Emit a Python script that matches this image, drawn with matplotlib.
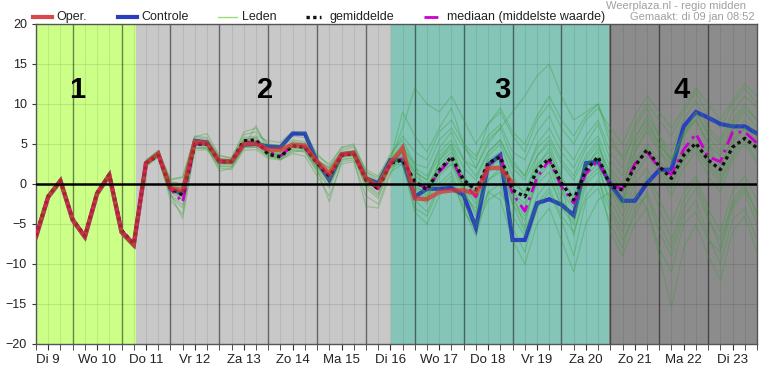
import numpy as np
import matplotlib
matplotlib.use('Agg')
import matplotlib.pyplot as plt
from matplotlib.lines import Line2D

plt.rcParams['font.family'] = ['Liberation Sans', 'DejaVu Sans']

# 6-hourly steps, starting Di 9 06:00 (x in days of January)
START_DAY = 9.25
STEP = 0.25

oper = [-6.6, -1.6, 0.4, -4.5, -6.6, -1.2, 1.1, -6.0, -7.6,
        2.6, 3.8, -0.5, -0.8, 5.3, 5.1, 2.9, 2.8, 5.0, 5.0,
        4.3, 4.3, 4.9, 4.8, 2.8, 1.3, 3.7, 3.9, 0.7, -0.3,
        2.6, 4.5, -1.8, -1.9, -1.0, -0.8, -0.8, -1.2, 2.0, 2.0, 0.1]

controle = [-6.6, -1.6, 0.4, -4.5, -6.6, -1.2, 1.1, -6.0, -7.6,
            2.6, 3.8, -0.6, -1.2, 5.4, 5.2, 2.8, 2.8, 4.9, 5.0,
            4.7, 4.6, 6.3, 6.3, 2.8, 0.5, 3.7, 3.9, 0.7, 0.1,
            3.0, 3.0, -1.6, -0.6, -0.6, -0.5, -1.4, -5.5, 2.4, 3.6,
            -7.0, -7.0, -2.4, -1.9, -2.6, -3.9, 2.6, 2.8,
            0.0, -2.1, -2.1, 0.1, 1.75, 1.8, 7.2, 9.0, 8.3, 7.5, 7.2, 7.2, 6.3]

gemiddelde = [-6.5, -1.5, 0.4, -4.4, -6.5, -1.1, 1.2, -5.8, -7.5,
              2.6, 3.6, -0.5, -1.4, 5.0, 5.0, 2.8, 2.8, 5.4, 5.5,
              3.7, 3.4, 4.8, 4.6, 2.6, 1.0, 3.6, 3.8, 0.5, -0.6,
              2.6, 3.0, 0.3, -0.7, 1.75, 3.4, 0.5, -0.75, 2.6, 3.4,
              -0.75, -1.6, 1.75, 3.2, 0.1, -2.0, 1.75, 3.4,
              -0.3, -0.75, 2.2, 4.3, 2.2, 0.7, 3.6, 5.1, 3.0, 1.8, 4.6, 5.7, 4.5]

mediaan = [-6.5, -1.5, 0.4, -4.4, -6.5, -1.1, 1.2, -5.8, -7.5,
           2.6, 3.6, -0.6, -2.3, 5.0, 5.0, 2.8, 2.8, 5.2, 5.3,
           4.0, 3.5, 4.8, 4.6, 2.6, 1.0, 3.6, 3.8, 0.5, -0.6,
           2.6, 3.2, 0.2, -0.6, 1.5, 3.2, 0.1, -1.6, 2.3, 3.4,
           -1.2, -3.4, 0.8, 3.0, -0.3, -2.4, 1.3, 2.9,
           -0.2, -0.6, 2.5, 4.0, 2.0, 1.2, 4.3, 6.3, 3.4, 2.8, 6.5, 6.5, 5.1]

# ensemble members (estimated from the spaghetti)
leden = [
    [-6.3, -1.3, 0.7, -4.2, -6.3, -0.8, 1.5, -5.6, -7.2,
     3.0, 4.2, 0.5, 0.8, 6.0, 5.8, 3.5, 3.3, 6.2, 6.5, 5.0, 4.8, 6.0, 5.8, 3.5, 2.5, 4.5, 4.8, 1.8, 1.0,
     3.5, 6.0, 4.0, 3.0, 6.5, 8.0, 5.0, 3.5, 6.0, 7.5, 4.0, 3.0, 6.5, 8.5, 5.0, 3.0, 6.0, 8.0,
     4.0, 2.0, 7.0, 9.5, 6.0, 4.0, 8.0, 10.5, 7.0, 5.5, 9.0, 11.0, 9.5],
    [-7.0, -2.0, 0.0, -4.8, -7.0, -1.6, 0.7, -6.4, -8.0,
     2.2, 3.3, -2.0, -3.8, 4.2, 4.3, 2.0, 1.8, 4.2, 4.3, 3.2, 3.0, 3.8, 3.5, 1.0, -1.5, 2.5, 2.8, -1.5, -2.5,
     1.5, 2.5, -3.5, -5.0, -1.5, 0.5, -3.0, -6.5, -1.0, 0.0, -5.5, -8.5, -3.0, -1.0, -4.5, -9.0, -2.0, -0.5,
     -5.0, -8.0, -3.0, -1.5, -6.0, -9.0, -4.0, -2.0, -6.5, -10.0, -4.5, -3.0, -7.0],
    [-6.5, -1.5, 0.5, -4.4, -6.5, -1.0, 1.2, -5.8, -7.4,
     2.7, 3.9, 0.0, -0.5, 5.5, 5.3, 3.0, 3.0, 5.5, 5.8, 4.5, 4.2, 5.2, 5.0, 3.0, 1.8, 4.0, 4.2, 1.0, 0.0,
     3.0, 7.0, 12.0, 10.0, 9.0, 11.0, 8.0, 5.0, 7.5, 9.0, 6.0, 4.0, 8.0, 10.0, 7.0, 5.0, 8.0, 9.5,
     7.0, 5.0, 8.5, 11.0, 9.0, 7.0, 9.5, 12.0, 10.0, 8.0, 10.5, 12.5, 11.0],
    [-6.6, -1.7, 0.3, -4.6, -6.7, -1.3, 1.0, -6.1, -7.7,
     2.5, 3.6, -1.0, -2.0, 4.8, 4.7, 2.5, 2.4, 4.8, 4.9, 3.8, 3.6, 4.5, 4.3, 2.0, 0.3, 3.3, 3.5, 0.0, -1.2,
     2.2, 3.5, -1.0, -2.5, 1.0, 2.5, -1.5, -3.0, 1.5, 2.5, -2.0, -4.0, 0.0, 1.5, -3.0, -5.0, 0.5, 2.0,
     -2.0, -5.0, -1.0, -3.0, -9.0, -15.5, -8.0, -5.0, -9.0, -12.0, -6.0, -4.0, -8.5],
    [-6.5, -1.5, 0.4, -4.4, -6.5, -1.1, 1.2, -5.9, -7.5,
     2.6, 3.7, -0.3, -1.0, 5.2, 5.0, 2.8, 2.7, 5.3, 5.4, 3.8, 3.5, 4.8, 4.6, 2.5, 1.0, 3.6, 3.8, 0.5, -0.5,
     2.7, 3.5, 0.5, -0.5, 2.5, 4.0, 1.0, -1.0, 3.0, 4.0, 0.0, -1.0, 2.5, 4.0, 0.5, -1.5, 2.5, 4.0,
     0.5, -1.0, 3.0, 5.0, 3.0, 1.0, 4.5, 6.0, 4.0, 2.5, 5.5, 7.0, 5.5],
    [-6.4, -1.4, 0.6, -4.3, -6.4, -0.9, 1.3, -5.7, -7.3,
     2.8, 4.0, 0.2, 0.0, 5.8, 5.6, 3.2, 3.1, 6.5, 7.0, 4.8, 4.6, 5.5, 5.3, 3.0, 2.0, 4.2, 4.6, 1.5, 0.5,
     3.0, 5.0, 2.0, 1.0, 4.0, 5.5, 3.0, 2.0, 5.0, 7.0, 9.0, 11.0, 13.5, 15.0, 11.0, 8.0, 9.0, 10.0,
     6.0, 3.0, 6.0, 8.0, 5.0, 3.0, 6.0, 9.0, 6.5, 5.0, 8.0, 10.0, 8.0],
    [-6.8, -1.8, 0.2, -4.7, -6.8, -1.4, 0.9, -6.2, -7.8,
     2.4, 3.5, -1.5, -3.0, 4.6, 4.5, 2.2, 2.1, 4.5, 4.6, 3.4, 3.2, 4.2, 4.0, 1.5, -0.5, 3.0, 3.2, -0.5, -1.8,
     2.0, 3.0, -2.0, -3.5, 0.0, 1.5, -2.5, -5.0, -1.0, -2.0, -7.0, -10.0, -5.0, -3.0, -7.0, -11.0, -5.0, -2.0,
     -1.0, -4.0, 0.0, 2.0, -2.0, -5.0, -1.0, 1.0, -3.0, -6.0, -1.0, 1.0, -2.0],
    [-6.4, -1.5, 0.5, -4.4, -6.5, -1.0, 1.1, -5.9, -7.5,
     2.7, 3.8, 0.3, 0.0, 5.3, 5.2, 3.0, 2.9, 5.6, 5.8, 4.2, 4.0, 5.0, 4.8, 3.0, 2.0, 3.9, 4.1, 1.2, 0.3,
     3.0, 4.5, 1.5, 0.5, 3.5, 5.0, 2.0, 0.5, 4.0, 5.5, 2.5, 1.0, 4.5, 6.0, 3.0, 1.0, 4.5, 6.0,
     2.0, 0.0, 4.0, 6.5, 4.0, 2.5, 6.0, 8.0, 5.0, 3.5, 7.0, 9.0, 7.0],
    [-6.6, -1.6, 0.4, -4.5, -6.6, -1.2, 1.0, -6.0, -7.6,
     2.5, 3.6, -0.8, -1.8, 4.9, 4.8, 2.6, 2.5, 5.0, 5.0, 3.6, 3.3, 4.6, 4.4, 2.2, 0.6, 3.4, 3.6, 0.2, -0.8,
     2.5, 3.0, -0.5, -2.0, 1.5, 3.0, -0.5, -2.5, 2.0, 3.5, -1.5, -3.0, 1.0, 3.0, -1.0, -3.0, 1.5, 3.0,
     -1.0, -2.5, 4.0, 7.0, 4.5, 1.0, 3.0, 4.5, 2.0, 0.0, 3.5, 5.5, 3.0],
    [-6.5, -1.6, 0.3, -4.5, -6.6, -1.1, 1.1, -6.0, -7.6,
     2.6, 3.7, -0.5, -1.2, 5.0, 4.9, 2.7, 2.6, 5.1, 5.2, 3.9, 3.7, 4.7, 4.5, 2.4, 0.8, 3.5, 3.7, 0.4, -0.6,
     3.0, 9.0, 6.0, 4.0, 7.0, 9.5, 5.0, 2.0, 5.5, 7.0, 3.0, 1.0, 5.0, 7.0, 4.0, 2.0, 5.0, 7.5,
     3.0, 1.0, 5.0, 7.5, 5.0, 3.0, 6.5, 9.0, 6.0, 4.0, 7.5, 9.5, 8.0],
    [-6.6, -1.6, 0.4, -4.5, -6.6, -1.2, 1.1, -6.0, -7.6,
     2.5, 3.7, -0.8, -1.6, 5.0, 4.8, 2.6, 2.6, 5.0, 5.1, 3.7, 3.4, 4.6, 4.4, 2.2, 0.5, 3.4, 3.6, 0.3, -0.7,
     2.4, 3.2, -1.5, -2.0, 2.0, 3.5, -0.5, -2.0, 2.0, 3.0, -2.5, -4.5, 0.5, 2.5, -2.0, -4.0, 1.0, 2.5,
     -3.0, -6.0, -2.0, 1.0, -3.0, -7.0, -2.0, 0.5, -4.0, -8.0, -2.0, 0.0, -4.0],
    [-6.5, -1.5, 0.4, -4.5, -6.6, -1.1, 1.1, -5.9, -7.5,
     2.6, 3.8, -0.2, -0.6, 5.3, 5.1, 2.9, 2.8, 5.2, 5.3, 4.0, 3.8, 5.0, 4.8, 2.6, 1.0, 3.7, 3.9, 0.6, -0.4,
     2.6, 4.0, 0.0, -1.5, 3.0, 5.0, 0.5, -1.5, 3.5, 5.0, 1.0, -1.5, 3.5, 5.0, 1.0, -2.0, 3.0, 5.0,
     1.0, -2.0, 2.0, 4.5, 2.0, 0.0, 3.5, 6.0, 3.0, 1.0, 5.0, 7.0, 4.5],
    [-6.7, -1.7, 0.3, -4.0, -6.4, -1.0, 1.4, -5.8, -7.9,
     2.3, 3.4, -1.2, -4.3, 4.4, 4.6, 1.6, 2.0, 4.6, 7.3, 4.0, 3.0, 4.0, 4.2, 1.8, -2.2, 2.8, 3.0, -2.8, -3.0,
     1.2, 4.5, 2.5, -2.0, 3.0, 4.5, -0.5, -4.0, 0.5, 1.5, -1.0, -5.5, 2.0, 4.5, 0.0, -6.5, 0.0, 1.5,
     -6.0, -9.0, -5.0, -3.0, -8.0, -11.0, -5.0, -3.5, -7.0, -8.5, -3.0, -1.0, -5.0],
    [-6.4, -1.4, 0.5, -4.3, -6.5, -1.0, 1.2, -5.8, -7.4,
     2.9, 4.1, 0.6, 0.9, 5.9, 6.3, 3.6, 3.2, 5.8, 6.0, 5.4, 5.2, 6.6, 6.4, 3.8, 2.2, 4.6, 5.0, 1.5, 0.8,
     3.8, 5.5, 2.5, 2.0, 5.5, 7.0, 4.5, 3.0, 7.5, 9.5, 6.5, 5.0, 8.5, 11.0, 8.0, 6.0, 8.5, 10.0,
     5.0, 3.5, 7.5, 10.0, 8.0, 6.0, 9.0, 11.5, 8.5, 7.0, 10.0, 12.0, 10.0],
    [-6.6, -1.6, 0.4, -4.5, -6.6, -1.2, 1.0, -6.0, -7.6,
     2.4, 3.5, -1.3, -2.6, 4.5, 4.4, 2.3, 2.2, 4.6, 4.6, 3.5, 3.1, 4.3, 4.1, 1.8, -0.2, 3.1, 3.3, -0.2, -1.5,
     2.3, 2.5, -3.0, -4.0, -0.5, 1.0, -3.5, -5.5, -2.0, -1.0, -4.0, -6.5, -2.5, -0.5, -4.0, -6.0, -1.5, 0.5,
     -3.5, -7.0, -4.0, -1.0, -5.0, -8.0, -3.0, -0.5, -4.5, -7.0, -2.5, -0.5, -3.5],
    [-6.5, -1.5, 0.4, -4.4, -6.6, -1.1, 1.2, -5.9, -7.5,
     2.7, 3.9, -0.1, -0.3, 5.4, 5.3, 3.1, 3.0, 5.4, 5.6, 4.2, 4.1, 5.3, 5.1, 2.9, 1.5, 3.8, 4.0, 0.9, -0.1,
     2.9, 4.0, 1.0, 0.0, 2.0, 3.0, -1.0, -3.5, 0.5, 2.0, -2.5, -6.0, -1.5, 0.5, -2.5, -4.5, 2.0, 4.5,
     1.5, -1.0, 5.5, 8.5, 6.0, 3.0, 6.5, 8.0, 5.0, 2.0, 6.0, 8.0, 6.0],
    [-6.6, -1.6, 0.4, -4.5, -6.6, -1.2, 1.1, -6.0, -7.6,
     2.6, 3.7, -0.6, -1.4, 5.1, 4.9, 2.7, 2.7, 5.2, 5.3, 3.9, 3.6, 4.7, 4.5, 2.5, 0.9, 3.6, 3.8, 0.4, -0.5,
     2.6, 3.8, 1.5, 0.5, 4.5, 6.5, 3.0, 1.0, 4.0, 5.5, 2.0, 0.5, 3.5, 5.5, 2.5, 0.5, 3.5, 5.5,
     -0.5, -3.0, 1.0, 3.5, 1.5, -1.5, 2.0, 4.0, 1.0, -1.0, 3.0, 5.0, 2.5],
    [-6.5, -1.5, 0.4, -4.5, -6.5, -1.1, 1.1, -5.9, -7.5,
     2.6, 3.8, -0.4, -0.9, 5.2, 5.0, 2.8, 2.8, 5.3, 5.4, 4.1, 3.9, 4.9, 4.7, 2.7, 1.2, 3.7, 3.9, 0.6, -0.3,
     2.7, 4.2, -0.5, -1.0, 1.5, 2.5, 0.0, -1.0, 2.5, 3.5, -1.0, -2.5, 2.0, 3.5, -0.5, -2.5, 2.0, 3.5,
     0.0, -2.5, 2.5, 4.5, 2.0, -0.5, 3.0, 5.0, 2.5, 0.5, 4.0, 6.0, 4.0],
]

day_labels = ['Di 9', 'Wo 10', 'Do 11', 'Vr 12', 'Za 13', 'Zo 14', 'Ma 15', 'Di 16',
              'Wo 17', 'Do 18', 'Vr 19', 'Za 20', 'Zo 21', 'Ma 22', 'Di 23']
first_day = 9

# forecast periods: start, end, colour, number, x of number
regions = [(9.25, 11.29, '#ccff88', '1', 10.09),
           (11.29, 16.52, '#c8c8c8', '2', 13.93),
           (16.52, 20.97, '#85c5b8', '3', 18.8),
           (20.97, 24.0, '#8c8c8c', '4', 22.46)]

x_all = START_DAY + STEP * np.arange(len(controle))

fig = plt.figure(figsize=(7.83, 3.81), dpi=100)
ax = fig.add_axes([36 / 783, 1 - 344 / 381, 721 / 783, 320 / 381])

for x0, x1, col, num, xn in regions:
    ax.axvspan(x0, x1, color=col, zorder=0, lw=0)
    ax.text(xn, 11.7, num, fontsize=21, fontweight='bold', ha='center', va='center', zorder=10)

# grid
for xm in np.arange(START_DAY, 24.0, STEP):
    ax.axvline(xm, color='k', alpha=0.08, lw=0.8, zorder=1)
for d in range(10, 24):
    ax.axvline(d, color='k', alpha=0.45, lw=1, zorder=1)
for yy in range(-15, 20, 5):
    ax.axhline(yy, color='k', alpha=0.1, lw=0.8, zorder=1)
ax.axhline(0, color='k', lw=1.8, zorder=6)

ax.plot(x_all, controle, color='#2a3fc0', lw=3, zorder=3, solid_joinstyle='miter')
for m in leden:
    ax.plot(x_all[:len(m)], m, color='#36a036', lw=0.9, alpha=0.35, zorder=3.1)
ax.plot(x_all, mediaan, color='#cc00cc', lw=2, ls=(0, (5, 2, 1, 2)), zorder=3.2)
ax.plot(x_all, gemiddelde, color='#111111', lw=2.4, ls=(0, (1, 1)), zorder=3.4)
ax.plot(x_all[:len(oper)], oper, color='#e03030', lw=3.2, alpha=0.72, zorder=4,
        solid_joinstyle='miter')

ax.set_xlim(START_DAY, 24.0)
ax.set_ylim(-20, 20)
ax.set_yticks(range(-20, 21, 5))
ax.set_xticks([first_day + i + 0.5 for i in range(len(day_labels))])
ax.set_xticklabels(day_labels)
ax.set_xticks(np.arange(START_DAY, 24.01, STEP), minor=True)
ax.tick_params(axis='x', which='both', length=4, color='#333333', labelsize=9.5, pad=3,
               labelcolor='#222222')
ax.tick_params(axis='y', length=3, color='#333333', labelsize=9, labelcolor='#222222')
for s in ax.spines.values():
    s.set_color('#555555')
    s.set_linewidth(1)

# legend drawn in figure pixels
H, W = 381, 783
def fx(px):
    return px / W
def fy(py):
    return 1 - py / H

yl = 17
handles = [((33, 52), dict(color='#d84a4a', lw=3), 'Oper.', 56),
           ((118, 137), dict(color='#2a3fc0', lw=3), 'Controle', 141),
           ((218, 237), dict(color='#99dd77', lw=1), 'Leden', 242),
           ((306, 321), dict(color='#111111', lw=2.4, ls=(0, (1, 1))), 'gemiddelde', 330),
           ((424, 441), dict(color='#cc00cc', lw=2, ls=(0, (5, 2, 1, 2))), 'mediaan (middelste waarde)', 447)]
for (a, b), kw, lab, tx in handles:
    fig.add_artist(Line2D([fx(a), fx(b)], [fy(yl), fy(yl)], transform=fig.transFigure, **kw))
    fig.text(fx(tx), fy(yl), lab, fontsize=9, va='center', ha='left', color='#222222')

fig.text(fx(746), fy(6), 'Weerplaza.nl - regio midden', fontsize=8, ha='right', va='center', color='#a0a0a0')
fig.text(fx(755), fy(17), 'Gemaakt: di 09 jan 08:52', fontsize=8, ha='right', va='center', color='#a0a0a0')

fig.savefig('out.png', dpi=100)
